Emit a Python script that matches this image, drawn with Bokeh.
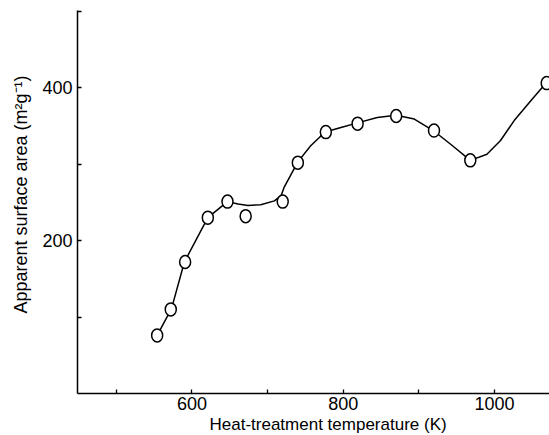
from bokeh.plotting import figure
from bokeh.models import Range1d, FixedTicker, Title, ColumnDataSource
from bokeh.embed import file_html
from bokeh.resources import INLINE

# Measured points (heat-treatment temperature K, apparent surface area m2/g)
temps = [554, 572, 591, 621, 647, 671, 720, 740, 777, 819, 870, 920, 968, 1069]
areas = [76, 110, 172, 230, 251, 232, 251, 302, 342, 353, 363, 344, 305, 406]

# Hand-drawn smooth curve
curve_t = [554, 573, 590, 621, 647, 661, 674, 691, 709, 718, 722, 740, 757,
           776, 797, 819, 845, 870, 894, 919, 942, 968, 990, 1008, 1026, 1048, 1067]
curve_a = [76, 111, 172, 230, 251, 248, 246, 247, 252, 259, 270, 303, 324,
           342, 348, 354, 361, 364, 359, 344, 326, 305, 313, 331, 357, 383, 405]

x_ticks = [500, 600, 700, 800, 900, 1000]
x_labels = {500: "", 600: "600", 700: "", 800: "800", 900: "", 1000: "1000"}
y_ticks = [100, 200, 300, 400, 500]
y_labels = {100: "", 200: "200", 300: "", 400: "400", 500: ""}

FONT = "Liberation Sans"

p = figure(width=549, height=435, output_backend="svg", toolbar_location=None,
           x_range=Range1d(448.7, 1072.7), y_range=Range1d(0, 501),
           min_border_left=76, min_border_right=0, min_border_top=10,
           min_border_bottom=42)
p.outline_line_color = None
p.xgrid.visible = False
p.ygrid.visible = False
p.background_fill_color = "white"
p.border_fill_color = "white"

for ax in (p.xaxis[0], p.yaxis[0]):
    ax.axis_line_width = 1.5
    ax.axis_line_color = "black"
    ax.major_tick_in = 4
    ax.major_tick_out = 0
    ax.major_tick_line_width = 1.3
    ax.minor_tick_line_color = None
    ax.major_label_text_font = FONT
    ax.major_label_text_font_size = "18px"
    ax.major_label_text_color = "black"

p.xaxis[0].ticker = FixedTicker(ticks=x_ticks)
p.xaxis[0].major_label_overrides = x_labels
p.xaxis[0].major_label_standoff = 3
p.yaxis[0].ticker = FixedTicker(ticks=y_ticks)
p.yaxis[0].major_label_overrides = y_labels
p.yaxis[0].major_label_standoff = 5

src_c = ColumnDataSource(dict(x=curve_t, y=curve_a))
p.line("x", "y", source=src_c, line_color="black", line_width=1.5,
       line_join="round", line_cap="round")

src_p = ColumnDataSource(dict(x=temps, y=areas))
p.ellipse("x", "y", source=src_p, width=11, height=13, width_units="screen",
          height_units="screen", fill_color="white", line_color="black",
          line_width=1.5)

xt = Title(text="Heat-treatment temperature (K)", align="left", offset=132,
           text_font=FONT, text_font_size="17px", text_font_style="normal",
           text_color="black", standoff=1)
yt = Title(text="Apparent surface area (m\u00b2g\u207b\u00b9)", align="left",
           offset=80, text_font=FONT, text_font_size="18px",
           text_font_style="normal", text_color="black", standoff=17)
p.add_layout(xt, "below")
p.add_layout(yt, "left")

open("out.html", "w").write(file_html(p, INLINE))
